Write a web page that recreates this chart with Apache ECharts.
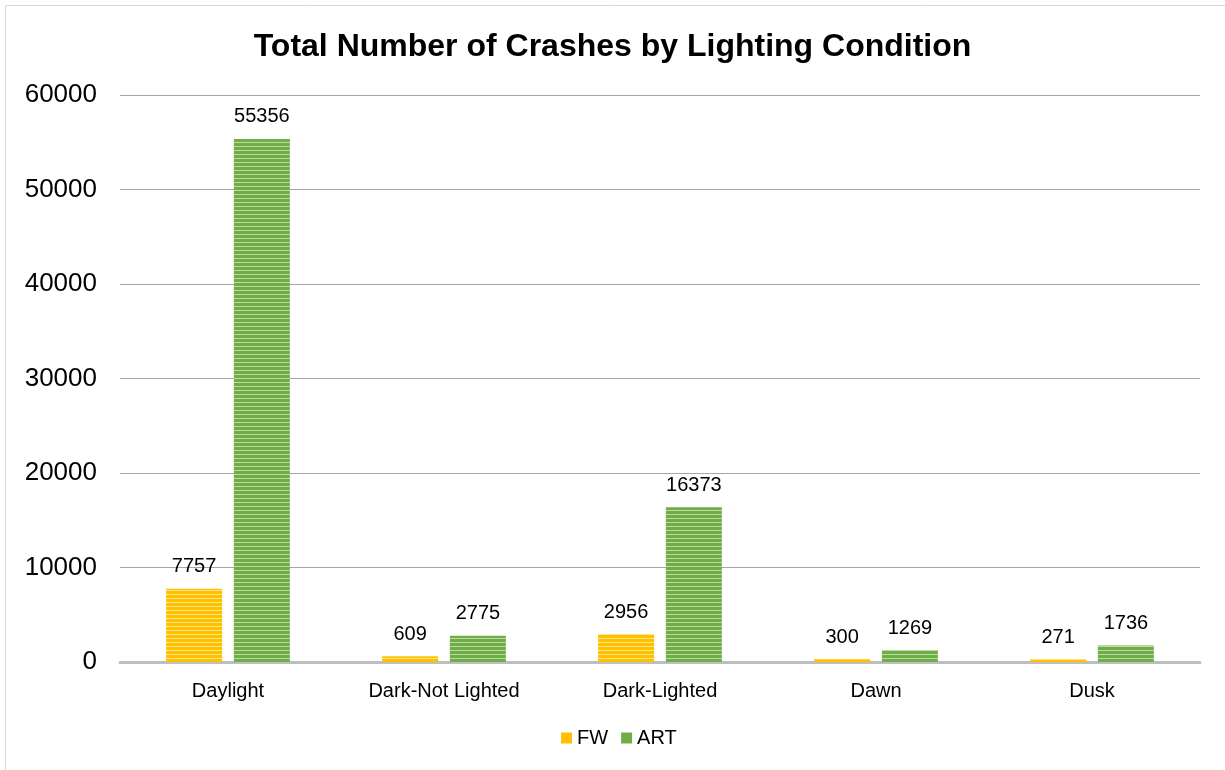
<!DOCTYPE html>
<html><head><meta charset="utf-8">
<script src="https://cdn.jsdelivr.net/npm/echarts@6/dist/echarts.min.js"></script>
<style>html,body{margin:0;padding:0;background:#fff}#c{width:1225px;height:770px}</style>
</head><body><div id="c"></div>
<script>
const categories = ['Daylight', 'Dark-Not Lighted', 'Dark-Lighted', 'Dawn', 'Dusk'];
const fwValues = [7757, 609, 2956, 300, 271];
const artValues = [55356, 2775, 16373, 1269, 1736];
const yTicks = [0, 10000, 20000, 30000, 40000, 50000, 60000];

function stripe(base, light) {
  const c = document.createElement('canvas');
  c.width = 4; c.height = 4;
  const g = c.getContext('2d');
  g.fillStyle = base; g.fillRect(0, 0, 4, 4);
  g.fillStyle = light; g.fillRect(0, 2, 4, 1);
  return { image: c, repeat: 'repeat' };
}
const fwColor = stripe('#FFC000', '#FFE38A');
const artColor = stripe('#70AD47', '#BADBA3');

const chart = echarts.init(document.getElementById('c'));
const lbl = { show: true, position: 'top', distance: 12, color: '#000', fontSize: 20, fontFamily: 'Liberation Sans' };
chart.setOption({
  animation: false,
  graphic: [{ type: 'rect', shape: { x: 5.5, y: 5.5, width: 1230, height: 780 }, style: { fill: 'none', stroke: '#D9D9D9', lineWidth: 1 } }],
  title: { text: 'Total Number of Crashes by Lighting Condition', left: 'center', top: 26,
    textStyle: { fontFamily: 'Liberation Sans', fontWeight: 'bold', fontSize: 32, color: '#000' } },
  legend: { bottom: 17, left: 556, itemWidth: 11, itemHeight: 11, itemGap: 13, icon: 'rect',
    textStyle: { fontFamily: 'Liberation Sans', fontSize: 20, color: '#000' },
    data: [{ name: 'FW', itemStyle: { color: '#FFC000' } }, { name: 'ART', itemStyle: { color: '#70AD47' } }] },
  grid: { left: 120, right: 25, top: 95, bottom: 108, containLabel: false },
  xAxis: { type: 'category', data: categories,
    axisLine: { lineStyle: { color: '#BFBFBF', width: 3 } }, axisTick: { show: false },
    axisLabel: { fontFamily: 'Liberation Sans', fontSize: 20, color: '#000', margin: 19 } },
  yAxis: { type: 'value', min: yTicks[0], max: yTicks[yTicks.length - 1], interval: 10000,
    axisLine: { show: false }, axisTick: { show: false },
    splitLine: { lineStyle: { color: '#A6A6A6', width: 1 } },
    axisLabel: { fontFamily: 'Liberation Sans', fontSize: 26, color: '#000', margin: 23, formatter: v => String(v) } },
  series: [
    { name: 'FW', type: 'bar', data: fwValues, barWidth: 56, barGap: '21%', itemStyle: { color: fwColor }, label: lbl },
    { name: 'ART', type: 'bar', data: artValues, barWidth: 56, itemStyle: { color: artColor }, label: lbl }
  ]
});
</script></body></html>
